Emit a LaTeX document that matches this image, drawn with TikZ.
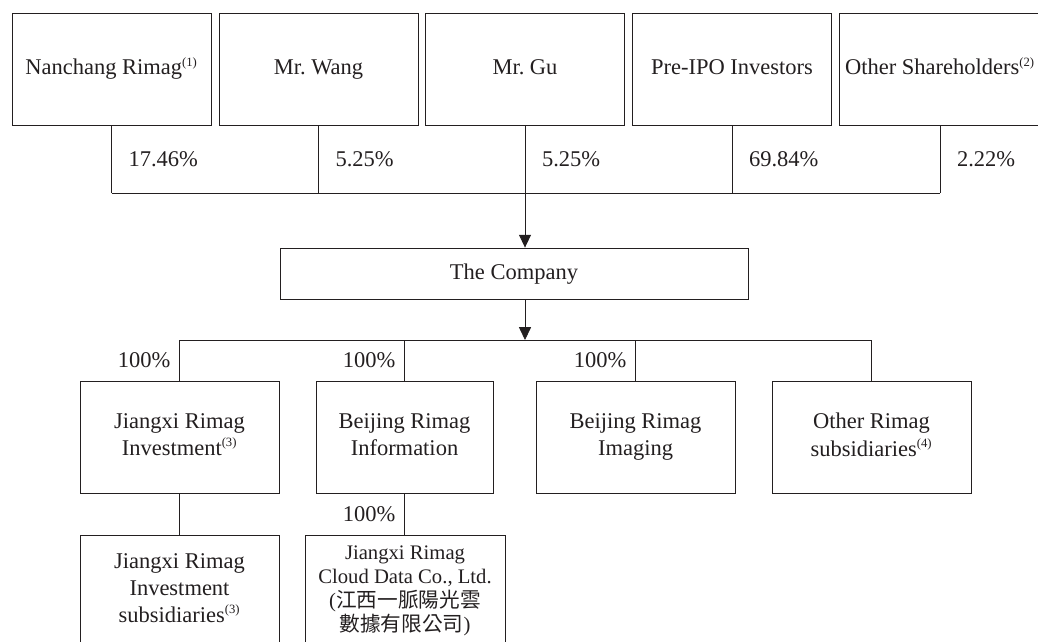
\documentclass[tikz,border=0pt]{standalone}
\usepackage{fontspec}
\setmainfont{Liberation Serif}
\newfontfamily\cjk{Noto Sans CJK TC}
\usetikzlibrary{arrows.meta}
\definecolor{ink}{RGB}{35,31,32}
\newcommand{\anm}[1]{\textsuperscript{\fontsize{9}{9}\selectfont(#1)}}
\newcommand{\stuetze}{\rule[-0.25em]{0pt}{1em}}

\begin{document}
\begin{tikzpicture}[x=0.025cm, y=-0.025cm, ink, line width=0.6pt,
    box/.style={draw, align=center, inner sep=1pt, minimum width=4.975cm,
        minimum height=2.8cm, font=\fontsize{16}{19.3}\selectfont,
        execute at begin node=\stuetze, execute at end node=\stuetze},
    pct/.style={font=\fontsize{16}{19.3}\selectfont},
    pfeil/.style={-{Triangle[length=0.32cm, width=0.3cm]}}]
            % Rahmen
            \useasboundingbox (0,0) rectangle (1038,641);
            % Gesellschafter
            \node[box] (nanchang) at (111.5,69) {Nanchang Rimag\anm{1}};
            \node[box] (wang) at (318.5,69) {Mr.\ Wang};
            \node[box] (gu) at (525,69) {Mr.\ Gu};
            \node[box] (preipo) at (732,69) {Pre-IPO Investors};
            \node[box, minimum width=5.05cm] (others) at (940,69) {Other Shareholders\anm{2}};
            % Anteile oben
            \coordinate (oben) at (525,193);
            \foreach \n/\p in {nanchang/17.46, wang/5.25, gu/5.25, preipo/69.84, others/2.22}
                \draw (\n.south) -- (\n.south |- oben) node[pct, midway, right=0.3cm] {\p\%};
            \draw (nanchang.south |- oben) -- (others.south |- oben);
            % Gesellschaft
            \node[box, minimum width=11.7cm, minimum height=1.275cm] (company) at (514,273.5) {The Company};
            \draw[pfeil] (oben) -- (oben |- company.north);
            \coordinate (unten) at (525,340);
            \draw[pfeil] (oben |- company.south) -- (unten);
            % Tochtergesellschaften
            \node[box] (jxinv) at (179.5,437.5) {Jiangxi Rimag\\Investment\anm{3}};
            \node[box, minimum width=4.425cm] (bjinfo) at (404.5,437.5) {Beijing Rimag\\Information};
            \node[box] (bjimg) at (635.5,437.5) {Beijing Rimag\\Imaging};
            \node[box] (other) at (871.5,437.5) {Other Rimag\\subsidiaries\anm{4}};
            \draw (jxinv.north |- unten) -- (other.north |- unten);
            \foreach \n in {jxinv, bjinfo, bjimg}
                \draw (\n.north |- unten) -- (\n.north) node[pct, midway, left=0.1cm] {100\%};
            \draw (other.north |- unten) -- (other.north);
            % Untere Ebene
            \node[box] (jxsub) at (179.5,591) {Jiangxi Rimag\\Investment\\subsidiaries\anm{3}};
            \node[box, minimum width=5cm, font=\fontsize{14.7}{17}\selectfont] (cloud) at (405,591)
                {Jiangxi Rimag\\Cloud Data Co., Ltd.\\({\cjk 江西一脈陽光雲}\\{\cjk 數據有限公司})};
            \draw (jxinv.south) -- (jxsub.north);
            \draw (bjinfo.south) -- (bjinfo.south |- cloud.north) node[pct, midway, left=0.1cm] {100\%};
        \end{tikzpicture}
\end{document}
